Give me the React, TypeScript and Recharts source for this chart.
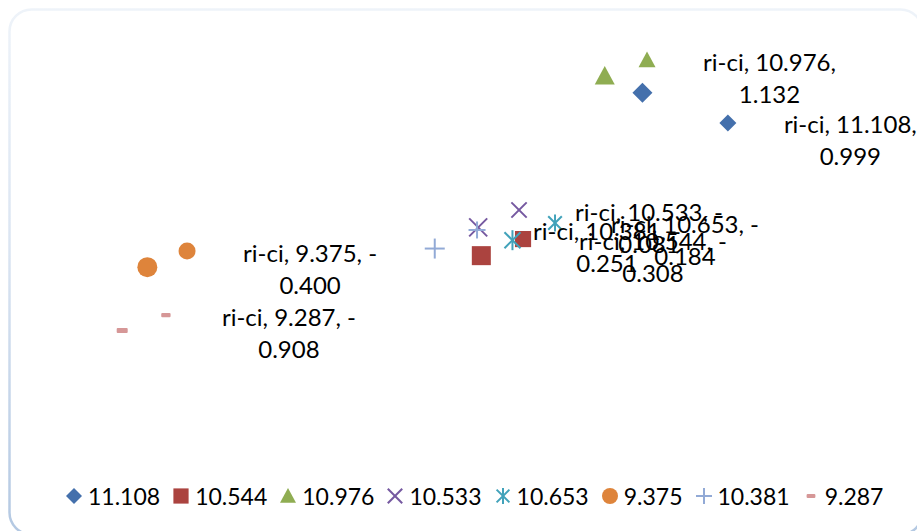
import React from 'react';
import { ScatterChart, Scatter, XAxis, YAxis, Legend } from 'recharts';

// Series names shown in the legend
const seriesNames = ['11.108', '10.544', '10.976', '10.533', '10.653', '9.375', '10.381', '9.287'];
// Labelled point of every series (x, y)
const xValues = [11.108, 10.544, 10.976, 10.533, 10.653, 9.375, 10.381, 9.287];
const yValues = [0.999, -0.308, 1.132, -0.081, -0.184, -0.4, -0.251, -0.908];
// Companion point of every series (x, y)
const xPaired = [11.407, 10.69, 11.124, 10.676, 10.802, 9.514, 10.529, 9.44];
const yPaired = [0.756, -0.175, 1.261, 0.058, -0.046, -0.271, -0.102, -0.784];
// Category shown at the start of each data label
const categoryName = 'ri-ci';

// Marker styling per series
const markerKinds = ['diamond', 'square', 'triangle', 'cross', 'star', 'circle', 'plus', 'dash'];
const colors = ['#4470ac', '#ab433f', '#8fad52', '#7558a0', '#41a2ba', '#de843b', '#92aad6', '#d69797'];

const FONT = 'Lato, "Open Sans", sans-serif';
const LEGEND_FONT_SIZE = 23;
const LABEL_FONT_SIZE = 24;

const series = seriesNames.map((name, i) => ({
  name,
  data: [
    { x: xValues[i], y: yValues[i], role: 'value' },
    { x: xPaired[i], y: yPaired[i], role: 'pair' },
  ],
}));

// Labels sit beside each companion point and state the labelled point's values
const labelData = seriesNames.map((_, i) => {
  const neg = yValues[i] < 0;
  return {
    x: xPaired[i],
    y: yPaired[i],
    line1: `${categoryName}, ${xValues[i].toFixed(3)},${neg ? ' -' : ''}`,
    line2: Math.abs(yValues[i]).toFixed(3),
  };
});

let measureCtx: CanvasRenderingContext2D | null = null;
function textWidth(t: string, size: number): number {
  if (typeof document === 'undefined') return t.length * size * 0.5;
  if (!measureCtx) measureCtx = document.createElement('canvas').getContext('2d');
  if (!measureCtx) return t.length * size * 0.5;
  measureCtx.font = `${size}px Lato`;
  return measureCtx.measureText(t).width;
}

function Marker({ kind, cx, cy, s, color }: { kind: string; cx: number; cy: number; s: number; color: string }) {
  const h = s / 2;
  switch (kind) {
    case 'diamond':
      return <path d={`M${cx},${cy - h}L${cx + h},${cy}L${cx},${cy + h}L${cx - h},${cy}Z`} fill={color} />;
    case 'square':
      return <rect x={cx - h * 0.95} y={cy - h * 0.95} width={s * 0.95} height={s * 0.95} fill={color} />;
    case 'triangle':
      return <path d={`M${cx},${cy - h}L${cx + h},${cy + h * 0.85}L${cx - h},${cy + h * 0.85}Z`} fill={color} />;
    case 'cross': {
      const a = h * 0.9;
      return (
        <g stroke={color} strokeWidth={2}>
          <line x1={cx - a} y1={cy - a} x2={cx + a} y2={cy + a} />
          <line x1={cx - a} y1={cy + a} x2={cx + a} y2={cy - a} />
        </g>
      );
    }
    case 'star': {
      const a = h * 0.8;
      return (
        <g stroke={color} strokeWidth={2}>
          <line x1={cx - a} y1={cy - a} x2={cx + a} y2={cy + a} />
          <line x1={cx - a} y1={cy + a} x2={cx + a} y2={cy - a} />
          <line x1={cx} y1={cy - h} x2={cx} y2={cy + h} />
        </g>
      );
    }
    case 'circle':
      return <circle cx={cx} cy={cy} r={h} fill={color} />;
    case 'plus':
      return (
        <g stroke={color} strokeWidth={2}>
          <line x1={cx - h} y1={cy} x2={cx + h} y2={cy} />
          <line x1={cx} y1={cy - h} x2={cx} y2={cy + h} />
        </g>
      );
    case 'dash':
      return <rect x={cx - s * 0.275} y={cy - s * 0.125} width={s * 0.55} height={s * 0.25} rx={1} fill={color} />;
    default:
      return null;
  }
}

function renderLabel(p: any) {
  const { cx, cy, payload } = p;
  if (cx == null || cy == null || !payload) return <g />;
  const left = cx + 56;
  const w1 = textWidth(payload.line1, LABEL_FONT_SIZE);
  return (
    <g fontFamily={FONT} fontSize={LABEL_FONT_SIZE} fill="#000">
      <text x={left} y={cy + 1} dominantBaseline="central" textAnchor="start">
        {payload.line1}
      </text>
      <text x={left + w1 / 2} y={cy + 33} dominantBaseline="central" textAnchor="middle">
        {payload.line2}
      </text>
    </g>
  );
}

function renderLegend() {
  return (
    <div
      style={{
        display: 'flex',
        alignItems: 'center',
        height: 30,
        paddingLeft: 63,
        fontFamily: FONT,
        fontSize: LEGEND_FONT_SIZE,
        color: '#000',
        whiteSpace: 'nowrap',
      }}
    >
      {seriesNames.map((name, i) => (
        <div key={name} style={{ display: 'flex', alignItems: 'center', marginRight: 10 }}>
          <svg width={22} height={22} style={{ marginRight: 3 }}>
            <Marker kind={markerKinds[i]} cx={11} cy={11} s={16} color={colors[i]} />
          </svg>
          <span>{name}</span>
        </div>
      ))}
    </div>
  );
}

export default function App() {
  return (
    <div
      style={{
        position: 'fixed',
        left: 0,
        top: 0,
        width: 917,
        height: 531,
        overflow: 'hidden',
        background: '#fff',
        fontFamily: FONT,
      }}
    >
      <svg style={{ position: 'absolute', left: 0, top: 0 }} width={917} height={531}>
        <defs>
          <linearGradient id="frameStroke" x1="0" y1="0" x2="0" y2="1">
            <stop offset="0%" stopColor="#eef3f9" />
            <stop offset="45%" stopColor="#dbe5f2" />
            <stop offset="100%" stopColor="#b3c8e2" />
          </linearGradient>
        </defs>
        <rect x={9.5} y={9.5} width={913} height={525} rx={22} fill="none" stroke="url(#frameStroke)" strokeWidth={2.5} />
      </svg>
      <div style={{ position: 'absolute', left: 0, top: 0 }}>
        <ScatterChart width={917} height={531} margin={{ top: 30.2, right: 19.7, bottom: 64.35, left: 40.2 }}>
          <XAxis type="number" dataKey="x" domain={[9, 12]} hide />
          <YAxis type="number" dataKey="y" domain={[-2, 1.5]} hide />
          {series.map((s, i) => (
            <Scatter
              key={s.name}
              name={s.name}
              data={s.data}
              isAnimationActive={false}
              shape={(p: any) => (
                <Marker
                  kind={markerKinds[i]}
                  cx={p.cx}
                  cy={p.cy}
                  s={p.payload && p.payload.role === 'value' ? 20 : 17}
                  color={colors[i]}
                />
              )}
            />
          ))}
          <Scatter name="labels" data={labelData} legendType="none" isAnimationActive={false} shape={renderLabel} />
          <Legend content={renderLegend} wrapperStyle={{ left: 0, top: 481, width: 917, height: 0 }} />
        </ScatterChart>
      </div>
    </div>
  );
}
